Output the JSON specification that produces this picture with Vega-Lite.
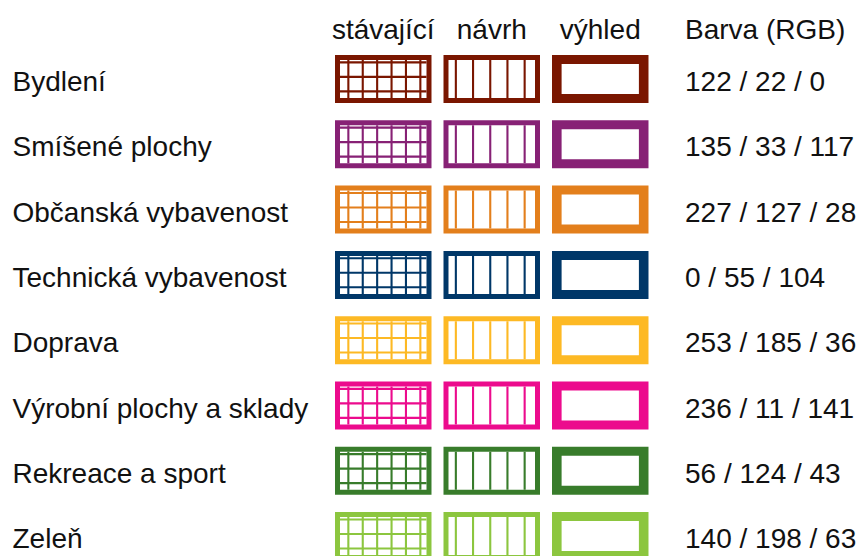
{
  "$schema": "https://vega.github.io/schema/vega-lite/v6.json",
  "width": 861,
  "height": 556,
  "padding": 0,
  "autosize": {"type": "none"},
  "background": "white",
  "config": {
    "view": {"stroke": null},
    "font": "Liberation Sans",
    "axisX": {
      "domain": false,
      "ticks": false,
      "tickSize": 0,
      "grid": false,
      "labelPadding": -38,
      "labelAngle": 0,
      "labelBaseline": "alphabetic",
      "labelFontSize": 28,
      "labelFont": "Liberation Sans",
      "labelColor": "#111111",
      "labelLimit": 400
    }
  },
  "datasets": {
    "cats": [
      {"cat": "Bydlení", "rgb": "122 / 22 / 0"},
      {"cat": "Smíšené plochy", "rgb": "135 / 33 / 117"},
      {"cat": "Občanská vybavenost", "rgb": "227 / 127 / 28"},
      {"cat": "Technická vybavenost", "rgb": "0 / 55 / 104"},
      {"cat": "Doprava", "rgb": "253 / 185 / 36"},
      {"cat": "Výrobní plochy a sklady", "rgb": "236 / 11 / 141"},
      {"cat": "Rekreace a sport", "rgb": "56 / 124 / 43"},
      {"cat": "Zeleň", "rgb": "140 / 198 / 63"}
    ]
  },
  "data": {"name": "cats"},
  "encoding": {
    "y": {
      "field": "cat",
      "type": "nominal",
      "sort": null,
      "scale": {
        "domain": ["Bydlení", "Smíšené plochy", "Občanská vybavenost", "Technická vybavenost", "Doprava", "Výrobní plochy a sklady", "Rekreace a sport", "Zeleň"],
        "range": [55, 560.1],
        "paddingInner": 0.265,
        "paddingOuter": 0
      },
      "axis": {
        "title": null,
        "orient": "left",
        "offset": -12,
        "domain": false,
        "ticks": false,
        "tickSize": 0,
        "grid": false,
        "labelPadding": 0,
        "labelAlign": "left",
        "labelBaseline": "alphabetic",
        "labelOffset": 12,
        "labelFontSize": 28,
        "labelFont": "Liberation Sans",
        "labelColor": "#111111",
        "labelLimit": 600
      }
    },
    "color": {
      "field": "cat",
      "type": "nominal",
      "scale": {
        "domain": ["Bydlení", "Smíšené plochy", "Občanská vybavenost", "Technická vybavenost", "Doprava", "Výrobní plochy a sklady", "Rekreace a sport", "Zeleň"],
        "range": ["rgb(122,22,0)", "rgb(135,33,117)", "rgb(227,127,28)", "rgb(0,55,104)", "rgb(253,185,36)", "rgb(236,11,141)", "rgb(56,124,43)", "rgb(140,198,63)"]
      },
      "legend": null
    }
  },
  "layer": [
    {
      "mark": {"type": "rect"},
      "encoding": {
        "x": {
          "datum": "stávající",
          "type": "nominal",
          "scale": {
            "domain": ["stávající", "návrh", "výhled", "Barva (RGB)"],
            "range": [329, 763],
            "paddingInner": 0.1106,
            "paddingOuter": 0.0553
          },
          "axis": {
            "orient": "top",
            "labelAlign": {"expr": "datum.value === 'Barva (RGB)' ? 'left' : 'center'"},
            "labelOffset": {"expr": "datum.value === 'Barva (RGB)' ? -23.75 : 0"}
          }
        }
      }
    },
    {
      "mark": {"type": "rect"},
      "encoding": {"x": {"datum": "návrh", "type": "nominal", "axis": {"orient": "top"}}}
    },
    {
      "mark": {"type": "rect"},
      "encoding": {"x": {"datum": "výhled", "type": "nominal", "axis": {"orient": "top"}}}
    },
    {
      "mark": {"type": "rect", "width": {"band": 0.8964}, "height": {"band": 0.7917}},
      "encoding": {"x": {"datum": "stávající", "type": "nominal", "axis": {"orient": "top"}}, "color": {"value": "white"}}
    },
    {
      "mark": {"type": "rect", "width": {"band": 0.8964}, "height": {"band": 0.7917}},
      "encoding": {"x": {"datum": "návrh", "type": "nominal", "axis": {"orient": "top"}}, "color": {"value": "white"}}
    },
    {
      "mark": {"type": "rect", "width": {"band": 0.801}, "height": {"band": 0.625}},
      "encoding": {"x": {"datum": "výhled", "type": "nominal", "axis": {"orient": "top"}}, "color": {"value": "white"}}
    },
    {
      "mark": {"type": "rule", "strokeWidth": 38, "strokeDash": [2.1, 12.3], "strokeDashOffset": 7.1, "xOffset": -43.25, "x2Offset": 43.25},
      "encoding": {
        "x": {"datum": "stávající", "type": "nominal", "axis": {"orient": "top"}},
        "x2": {"datum": "stávající"}
      }
    },
    {
      "mark": {"type": "rule", "strokeWidth": 86.5, "strokeDash": [2.1, 12.4], "strokeDashOffset": 13.2, "yOffset": -19, "y2Offset": 19},
      "encoding": {
        "x": {"datum": "stávající", "type": "nominal", "axis": {"orient": "top"}},
        "y2": {"field": "cat"}
      }
    },
    {
      "mark": {"type": "rule", "strokeWidth": 38, "strokeDash": [2.1, 15.1], "strokeDashOffset": 10.9, "xOffset": -43.25, "x2Offset": 43.25},
      "encoding": {
        "x": {"datum": "návrh", "type": "nominal", "axis": {"orient": "top"}},
        "x2": {"datum": "návrh"}
      }
    },
    {
      "mark": {"type": "text", "align": "left", "baseline": "alphabetic", "dx": -23.75, "dy": 12, "fontSize": 28, "font": "Liberation Sans"},
      "encoding": {
        "x": {"datum": "Barva (RGB)", "type": "nominal", "axis": {"orient": "top"}},
        "text": {"field": "rgb"},
        "color": {"value": "#111111"}
      }
    }
  ]
}
